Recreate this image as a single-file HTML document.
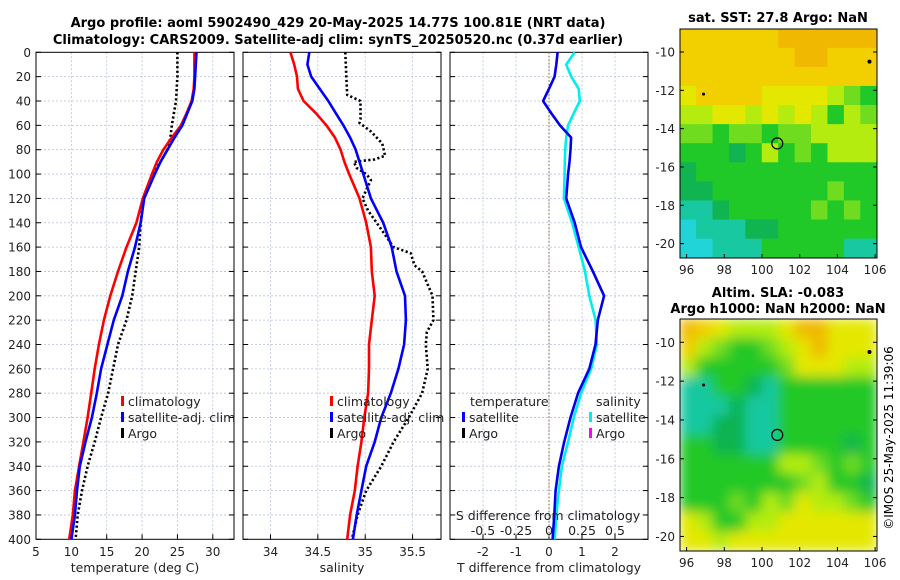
<!DOCTYPE html>
<html><head><meta charset="utf-8"><style>
html,body{margin:0;padding:0;background:#fff;}
svg{display:block;font-family:"DejaVu Sans","Liberation Sans",sans-serif;}
</style></head><body>
<svg id="fig" width="900" height="580" viewBox="0 0 900 580" xmlns="http://www.w3.org/2000/svg">
<text x="338" y="27" text-anchor="middle" font-size="13" font-weight="bold">Argo profile: aoml 5902490_429 20-May-2025 14.77S 100.81E (NRT data)</text>
<text x="338" y="44" text-anchor="middle" font-size="13" font-weight="bold">Climatology: CARS2009. Satellite-adj clim: synTS_20250520.nc (0.37d earlier)</text>
<g id="plots"></g>
<text x="778" y="22" text-anchor="middle" font-size="13" font-weight="bold">sat. SST: 27.8 Argo: NaN</text>
<text x="778" y="297" text-anchor="middle" font-size="13" font-weight="bold">Altim. SLA: -0.083</text>
<text x="778" y="313" text-anchor="middle" font-size="13" font-weight="bold">Argo h1000: NaN h2000: NaN</text>
<text transform="translate(893,438) rotate(-90)" text-anchor="middle" font-size="12">©IMOS 25-May-2025 11:39:06</text>
</svg>
<script>
// ---- data ----
const depthTicks = [0,20,40,60,80,100,120,140,160,180,200,220,240,260,280,300,320,340,360,380,400];
const depths = [0,10,20,30,40,50,60,70,80,90,100,120,140,160,180,200,220,240,260,280,300,320,340,360,380,400];
const tempClim = [27.4,27.4,27.4,27.3,27.0,26.3,25.5,24.2,23.0,22.1,21.4,20.1,19.2,17.8,16.6,15.5,14.6,13.9,13.3,12.8,12.3,11.7,11.1,10.5,10.2,9.7];
const tempSat = [27.7,27.6,27.5,27.4,27.1,26.4,25.7,24.6,23.6,22.6,21.8,20.3,19.8,19.0,18.0,17.2,16.0,15.1,14.2,13.6,12.9,12.0,11.2,10.8,10.5,10.0];
const tempArgo = [25.0,25.0,25.0,24.9,24.8,24.5,24.2,24.0,23.6,22.6,21.5,20.2,19.8,19.6,19.1,18.6,17.8,16.6,15.9,15.2,14.2,13.3,12.3,11.5,10.9,10.6];
const salClim = [34.21,34.25,34.28,34.29,34.35,34.48,34.59,34.68,34.74,34.78,34.83,34.94,35.01,35.06,35.07,35.10,35.07,35.04,35.04,35.03,34.99,34.96,34.92,34.89,34.84,34.81];
const salSat = [34.41,34.39,34.43,34.52,34.61,34.69,34.77,34.84,34.90,34.94,34.98,35.06,35.19,35.28,35.33,35.42,35.43,35.41,35.35,35.27,35.17,35.10,35.01,34.96,34.91,34.87];
const argoSalDepths = [0,20,35,40,55,58,65,75,85,88,90,95,100,105,120,130,140,150,160,165,175,180,200,220,230,240,260,280,300,320,340,360,380,400];
const salArgo = [34.79,34.80,34.81,34.95,34.95,34.94,35.06,35.18,35.21,35.10,34.88,34.91,35.01,35.06,34.97,35.03,35.12,35.21,35.30,35.48,35.52,35.60,35.71,35.72,35.65,35.64,35.66,35.60,35.46,35.30,35.17,35.01,34.92,34.86];
const tDiffSat = [0.26,0.22,0.17,0,-0.18,0.07,0.33,0.67,0.65,0.62,0.58,0.52,0.78,0.97,1.33,1.67,1.48,1.41,1.22,0.88,0.65,0.46,0.30,0.20,0.16,0.11];
const sDiffSat = [0.195,0.13,0.168,0.225,0.233,0.188,0.145,0.13,0.123,0.12,0.118,0.113,0.175,0.225,0.273,0.305,0.353,0.363,0.32,0.243,0.188,0.145,0.098,0.075,0.055,0.043];
const tempTicks = [5,10,15,20,25,30];
const salTicks = [34,34.5,35,35.5];
const tDiffTicks = [-2,-1,0,1,2];
const sDiffTicks = [-0.5,-0.25,0,0.25,0.5];
const mapLatTicks = [-10,-12,-14,-16,-18,-20];
const mapLonTicks = [96,98,100,102,104,106];
// map imagery grids (rows: lat -9 to -21, cols: lon 95.7 to 106.1)
const sstGrid = ["yyyyyyoooooo","yyyyyyyooyyy","yyyyyyyyyyyy","YyyyyYYYYlgG","llYYlYlYlGlg","ggGggGggllll","GGGdGlGgGlll","dGGGGGGGGGGG","ddGGGGGGGgGG","ttdGGGGGgGgG","ctttddGGGGGG","cctttGGGGGtt"];
const slaGrid = ["oyYlllYooYYY","ylgGGglYoYYY","lGGGGGgYYYll","ttGGdtGGGGGG","tttdttGGGGGG","ttddttGGGGGG","GGddttGGGGdG","GGGGGGllgGgG","GGGGGGGglGGd","GGGgGlgYllgG","YlGGllYYYYYY","YYlYYYYYYYYY"];

const NS = "http://www.w3.org/2000/svg";
const root = document.getElementById('plots');
function el(tag, attrs, parent){const e=document.createElementNS(NS,tag);for(const k in attrs)e.setAttribute(k,attrs[k]);(parent||root).appendChild(e);return e;}
function txt(x,y,s,size,anchor,parent){const t=el('text',{x:x,y:y,'font-size':size,'text-anchor':anchor||'middle',fill:'#222'},parent);t.textContent=s;return t;}

const Y0=52.3, Y1=539.3;
const yScale = d => Y0 + d/400*(Y1-Y0);
const panels = [
  {x0:36,x1:234,min:5,max:33,name:'temperature-panel'},
  {x0:243,x1:441,min:33.71,max:35.8,name:'salinity-panel'},
  {x0:450,x1:648,min:-3,max:3,name:'difference-panel'}
];
function xs(p,v){return p.x0+(v-p.min)/(p.max-p.min)*(p.x1-p.x0);}
const sdPanel={x0:450,x1:648,min:-0.75,max:0.75};

panels.forEach((p,i)=>{
  const g=el('g',{});
  
  
  const xt = i==0?tempTicks:(i==1?salTicks:tDiffTicks);
  depthTicks.forEach(d=>{ if(d>0&&d<400){const l=el('line',{x1:p.x0,x2:p.x1,y1:yScale(d),y2:yScale(d),stroke:'#b8c0dc','stroke-width':0.8,'stroke-dasharray':'2 2'},g);}
    el('line',{x1:p.x0,x2:p.x0+5,y1:yScale(d),y2:yScale(d),stroke:'#000'},g);
    el('line',{x1:p.x1-5,x2:p.x1,y1:yScale(d),y2:yScale(d),stroke:'#000'},g);
    if(i==0){const t=txt(31,yScale(d)+4.5,String(d),12,'end',g);}
  });
  xt.forEach(v=>{const x=xs(p,v);
    if(x>p.x0+1&&x<p.x1-1){const l=el('line',{x1:x,x2:x,y1:Y0,y2:Y1,stroke:'#b8c0dc','stroke-width':0.8,'stroke-dasharray':'2 2'},g);}
    el('line',{x1:x,x2:x,y1:Y1-5,y2:Y1,stroke:'#000'},g);
    const t=txt(x,556,String(v),12,'middle',g);
    
    
  });
  const fr=el('rect',{x:p.x0,y:Y0,width:p.x1-p.x0,height:Y1-Y0,fill:'none',stroke:'#000','stroke-width':1},g);
  
  
});
const zl=el('line',{x1:xs(panels[2],0),x2:xs(panels[2],0),y1:Y0,y2:Y1,stroke:'#806040','stroke-width':1,'stroke-dasharray':'1.5 2'});



function line(p,vals,ds,color,dash,name){
  const pts=vals.map((v,i)=>xs(p,v).toFixed(1)+','+yScale(ds[i]).toFixed(1)).join(' ');
  const a={points:pts,fill:'none',stroke:color,'stroke-width':2.6,'stroke-linejoin':'round'};
  if(dash)a['stroke-dasharray']=dash;
  const l=el('polyline',a);
  
  
}
line(panels[0],tempArgo,depths,'#000','2.2 2.4','temp-argo-line');
line(panels[0],tempClim,depths,'#ff0000',null,'temp-climatology-line');
line(panels[0],tempSat,depths,'#0000ff',null,'temp-satellite-line');
line(panels[1],salArgo,argoSalDepths,'#000','2.2 2.4','salinity-argo-line');
line(panels[1],salClim,depths,'#ff0000',null,'salinity-climatology-line');
line(panels[1],salSat,depths,'#0000ff',null,'salinity-satellite-line');
line(sdPanel,sDiffSat,depths,'#00eeee',null,'sdiff-satellite-line');
line(panels[2],tDiffSat,depths,'#0000ee',null,'tdiff-satellite-line');

let t;
t=txt(135,572,'temperature (deg C)',12.5);
t=txt(342,572,'salinity',12.5);
t=txt(549,572,'T difference from climatology',12.5);
t=txt(548,520,'S difference from climatology',12.5);
sDiffTicks.forEach(v=>{const s=txt(xs(sdPanel,v),535,String(v),12.5);});

function legend(x,y,color,label,name){
  const g=el('g',{});
  
  
  el('rect',{x:x,y:y-10,width:3,height:10,fill:color},g);
  txt(x+7,y,label,12.5,'start',g);
}
legend(121,406,'#ff0000','climatology','legend-temp-climatology');
legend(121,422,'#0000ff','satellite-adj. clim','legend-temp-satellite');
legend(121,438,'#000','Argo','legend-temp-argo');
legend(330,406,'#ff0000','climatology','legend-sal-climatology');
legend(330,422,'#0000ff','satellite-adj. clim','legend-sal-satellite');
legend(330,438,'#000','Argo','legend-sal-argo');
t=txt(470,406,'temperature',12.5,'start');
legend(462,422,'#0000ff','satellite','legend-tdiff-satellite');
legend(462,438,'#000','Argo','legend-tdiff-argo');
t=txt(596,406,'salinity',12.5,'start');
legend(589,422,'#00eeee','satellite','legend-sdiff-satellite');
legend(589,438,'#ff00ff','Argo','legend-sdiff-argo');

const pal={o:'#f0b800',y:'#f2d000',Y:'#e4e800',l:'#b4ec10',g:'#70dc20',G:'#20c828',d:'#10b450',t:'#18c8a0',c:'#20d4d8'};
function drawMap(grid,top,bottom,name,blur){
  const L=680,R=877,lon0=95.65,lon1=106.1,lat0=-8.8,lat1=-20.75;
  const mx=v=>L+(v-lon0)/(lon1-lon0)*(R-L);
  const my=v=>top+(v-lat0)/(lat1-lat0)*(bottom-top);
  const g=el('g',{});
  
  
  const cw=(R-L)/grid[0].length, ch=(bottom-top)/grid.length;
  const clip='clip-'+name;
  const cp=el('clipPath',{id:clip},g);el('rect',{x:L,y:top,width:R-L,height:bottom-top},cp);
  const outer=el('g',{'clip-path':'url(#'+clip+')'},g);
  const img=el('g',blur?{filter:'url(#blur)'}:{},outer);
  grid.forEach((row,r)=>{[...row].forEach((c,k)=>{el('rect',{x:L+k*cw-0.3,y:top+r*ch-0.3,width:cw+0.8,height:ch+0.8,fill:pal[c]},img);});});
  el('rect',{x:L,y:top,width:R-L,height:bottom-top,fill:'none',stroke:'#000','stroke-width':1},g);
  mapLatTicks.forEach(v=>{const y=my(v);el('line',{x1:L,x2:L+4,y1:y,y2:y,stroke:'#000'},g);el('line',{x1:R-4,x2:R,y1:y,y2:y,stroke:'#000'},g);
    const s=txt(675,y+4.5,String(v),12,'end',g);});
  mapLonTicks.forEach(v=>{const x=mx(v);el('line',{x1:x,x2:x,y1:bottom-4,y2:bottom,stroke:'#000'},g);
    const s=txt(x,bottom+16,String(v),12,'middle',g);});
  const c=el('circle',{cx:mx(100.81),cy:my(-14.77),r:5.5,fill:'none',stroke:'#000','stroke-width':1.2},g);
  
  
  el('circle',{cx:mx(105.7),cy:my(-10.5),r:2,fill:'#000'},g);
  el('circle',{cx:mx(96.9),cy:my(-12.2),r:1.5,fill:'#000'},g);
}
const defs=el('defs',{});
const f=el('filter',{id:'blur',x:'-10%',y:'-10%',width:'120%',height:'120%'},defs);
el('feGaussianBlur',{stdDeviation:6,edgeMode:'duplicate'},f);
drawMap(sstGrid,29,258,'sst-map',false);
drawMap(slaGrid,319,551,'sla-map',true);
</script>
</body></html>
